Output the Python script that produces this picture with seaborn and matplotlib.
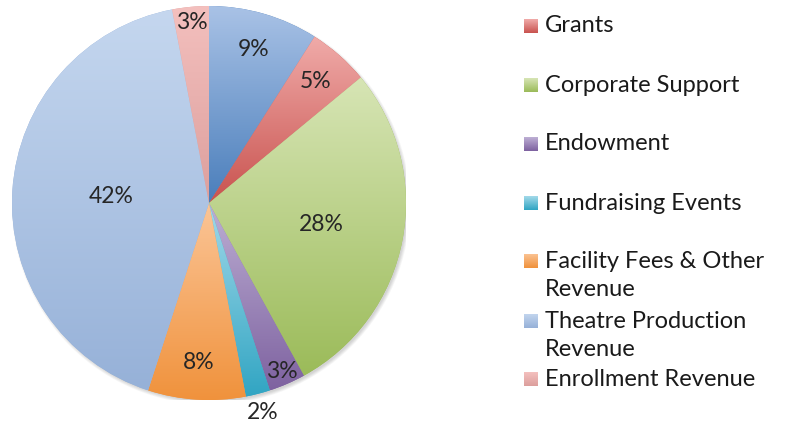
import numpy as np
import matplotlib
matplotlib.use("Agg")
import matplotlib.pyplot as plt
import seaborn as sns
from matplotlib.colors import to_rgb
from matplotlib.patches import Circle

sns.set_theme(style="white")
plt.rcParams['font.family'] = ['Lato', 'DejaVu Sans']

# slice order: clockwise from 12 o'clock
shares = [9, 5, 28, 3, 2, 8, 42, 3]
pct_labels = ["9%", "5%", "28%", "3%", "2%", "8%", "42%", "3%"]
legend_names = [None, "Grants", "Corporate Support", "Endowment", "Fundraising Events",
                "Facility Fees & Other\nRevenue", "Theatre Production\nRevenue", "Enrollment Revenue"]
top_colors = ["#a9c2e6", "#f0aba9", "#d7e5b5", "#bdafd4", "#a2d9e9", "#fbc597", "#c5d7ef", "#f4c0be"]
bottom_colors = ["#4a7ebb", "#c9534f", "#9bbb59", "#7e62a0", "#31a5c3", "#f0923c", "#96b1d8", "#dc9f9d"]
label_radius = [0.81, 0.82, 0.58, 0.93, 1.10, 0.81, 0.50, 0.92]

W, H = 803, 426
fig = plt.figure(figsize=(W / 100, H / 100), dpi=100)
cx, cy, r = 209, 203, 197
ax = fig.add_axes([(cx - r) / W, (H - cy - r) / H, 2 * r / W, 2 * r / H])

# soft shadow, only peeking out bottom-right
for i in range(5):
    ax.add_patch(Circle((0.01, -0.012), 0.995 + 0.004 * i, color="black",
                        alpha=0.035, lw=0, zorder=0))

wedges, _ = ax.pie(shares, colors=bottom_colors, startangle=90, counterclock=False,
                   radius=1, wedgeprops=dict(linewidth=0))

for w, c0, c1 in zip(wedges, top_colors, bottom_colors):
    verts = w.get_patch_transform().transform(w.get_path().vertices)
    x0, y0 = verts.min(axis=0)
    x1, y1 = verts.max(axis=0)
    t = np.linspace(0, 1, 256)[:, None]
    grad = (1 - t) * np.array(to_rgb(c0)) + t * np.array(to_rgb(c1))
    im = ax.imshow(grad[:, None, :], extent=[x0, x1, y0, y1], origin="upper",
                   aspect="auto", interpolation="bilinear", zorder=2)
    im.set_clip_path(w)

for w, lab, rf in zip(wedges, pct_labels, label_radius):
    mid = np.deg2rad((w.theta1 + w.theta2) / 2)
    ax.text(rf * np.cos(mid), rf * np.sin(mid), lab, ha="center", va="center",
            fontsize=16.5, color="#262626", zorder=5)

ax.set_xlim(-1, 1)
ax.set_ylim(-1, 1)
ax.set_aspect("auto")
ax.axis("off")

# legend drawn by hand to match wrapped entries
slot_y = [26, 85, 144, 203, 261, 321, 379]
for name, y, c0, c1 in zip(legend_names[1:], slot_y, top_colors[1:], bottom_colors[1:]):
    t = np.linspace(0, 1, 32)[:, None]
    grad = (1 - t) * np.array(to_rgb(c0)) + t * np.array(to_rgb(c1))
    sq = fig.add_axes([524 / W, (H - y - 7) / H, 14 / W, 14 / H])
    sq.imshow(grad[:, None, :], aspect="auto", interpolation="bilinear")
    sq.axis("off")
    for k, line in enumerate(name.split("\n")):
        fig.text(545 / W, (H - y - 29 * k) / H, line, ha="left", va="center",
                 fontsize=17, color="#1a1a1a")

fig.savefig("out.png", dpi=100)
